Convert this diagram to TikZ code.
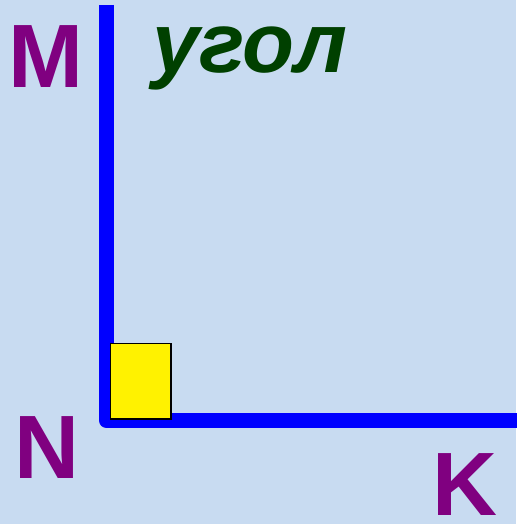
\documentclass[tikz,border=0pt]{standalone}
\usepackage{fontspec}
\setmainfont{Liberation Sans}
\definecolor{hintergrund}{RGB}{200,219,241}
\definecolor{lila}{RGB}{128,0,128}
\definecolor{dunkelgruen}{RGB}{0,64,0}
\tikzset{
	strahl/.style={line width=15pt, draw=blue, line join=round},
	buchstabe/.style={text=lila, font=\fontsize{90}{90}\selectfont\bfseries, inner sep=0pt, anchor=base},
	markierung/.style={draw=black, line width=1.5pt, fill=yellow},
}
\begin{document}
\begin{tikzpicture}[x=1pt, y=-1pt]
	% Hintergrund
	\fill[hintergrund] (0, 0) rectangle (516, 524);
	\useasboundingbox (0, 0) rectangle (516, 524);

	% Schenkel des Winkels
	\coordinate (oben) at (106.5, 5);
	\coordinate (ecke) at (106.5, 420.5);
	\coordinate (rechts) at (520, 420.5);
	\draw[strahl] (oben) -- (ecke) -- (rechts);

	% rechter Winkel
	\filldraw[markierung] (110.5, 343.5) rectangle (171, 419);

	% Beschriftung
	\node[buchstabe] (M) at (46, 88) {M};
	\node[buchstabe] (N) at (46.5, 478) {N};
	\node[buchstabe] (K) at (465, 515.5) {K};
	\node[text=dunkelgruen, font=\fontsize{85}{85}\selectfont\bfseries\itshape,
		inner sep=0pt, anchor=base west] (titel) at (152, 73) {угол};
\end{tikzpicture}
\end{document}
